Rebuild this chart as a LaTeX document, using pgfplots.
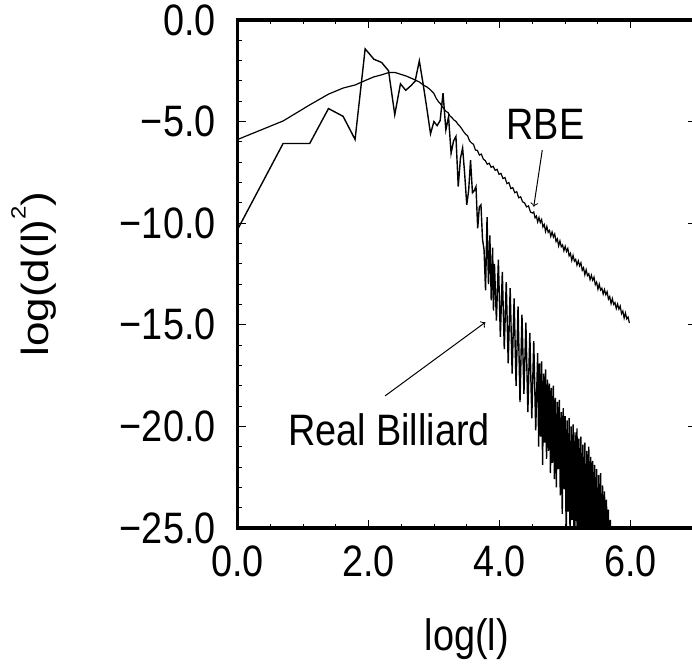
\documentclass[border=0pt]{standalone}
\usepackage{pgfplots}
\pgfplotsset{compat=1.18}
\usepackage{fontspec}
\setmainfont{Liberation Sans}[FakeStretch=0.86]
\newfontfamily\ylfont{Liberation Sans}
\newcommand{\lbl}{\fontsize{22}{26}\selectfont}

\begin{document}
\begin{tikzpicture}
\begin{axis}[
  scale only axis,
  width=229.25pt, height=254pt,
  xmin=0, xmax=7, ymin=-25, ymax=0,
  xtick={0,2,4,6}, xticklabels={0.0,2.0,4.0,6.0},
  ytick={-25,-20,-15,-10,-5,0},
  yticklabels={−25.0,−20.0,−15.0,−10.0,−5.0,0.0},
  minor x tick num=3, minor y tick num=4,
  tick align=inside,
  major tick length=4pt, minor tick length=2pt,
  tick style={line width=0.5pt, black},
  axis line style={line width=1.8pt},
  tick label style={font=\lbl},
  xticklabel style={yshift=-5.2pt},
  yticklabel style={xshift=-7.5pt},
  xlabel={log(l)},
  ylabel={\scalebox{1}[0.86]{\ylfont\lbl log(d(l)\raisebox{13pt}{\fontsize{12}{12}\selectfont 2})}},
  label style={font=\lbl},
  xlabel style={at={(axis description cs:0.5,-0.2402)}, anchor=base},
  ylabel style={at={(axis description cs:-0.4137,0.5)}, anchor=base, rotate=0},
]
% RBE
\addplot[black, line width=0.6pt] table[row sep=\\] {
x y\\
0 -5.88\\ 0.693 -4.97\\ 1.099 -4.18\\ 1.386 -3.65\\ 1.609 -3.35\\ 1.792 -3.2\\
1.946 -2.98\\ 2.079 -2.8\\ 2.197 -2.7\\ 2.303 -2.59\\ 2.398 -2.58\\ 2.485 -2.67\\
2.565 -2.75\\ 2.639 -2.85\\ 2.708 -2.95\\ 2.773 -3.05\\ 2.833 -3.2\\ 2.890 -3.3\\
2.944 -3.44\\ 2.996 -3.62\\
3.03 -3.85\\ 3.06 -4.0\\ 3.09 -4.1\\ 3.12 -4.25\\ 3.15 -4.38\\ 3.18 -4.5\\
3.21 -4.55\\ 3.24 -4.72\\ 3.27 -4.8\\ 3.30 -4.92\\ 3.33 -4.98\\ 3.36 -5.12\\
3.39 -5.22\\ 3.42 -5.35\\ 3.45 -5.5\\ 3.48 -5.62\\ 3.51 -5.7\\ 3.54 -5.95\\
3.57 -6.05\\ 3.60 -6.12\\ 3.63 -6.4\\ 3.66 -6.42\\ 3.69 -6.65\\ 3.72 -6.6\\
3.75 -6.85\\ 3.78 -6.92\\ 3.81 -7.1\\ 3.84 -7.05\\ 3.87 -7.25\\ 3.90 -7.2\\
3.93 -7.4\\ 3.96 -7.35\\ 3.99 -7.6\\ 4.02 -7.55\\ 4.05 -7.8\\ 4.08 -7.75\\
4.11 -8.05\\ 4.14 -8.0\\ 4.17 -8.3\\ 4.20 -8.25\\ 4.23 -8.5\\ 4.26 -8.45\\
4.29 -8.75\\ 4.32 -8.7\\ 4.35 -8.95\\ 4.38 -9.0\\ 4.41 -9.2\\ 4.44 -9.15\\
4.47 -9.45\\ 4.50 -9.5\\
4.52 -9.45\\ 4.54 -9.74\\ 4.56 -9.65\\ 4.58 -9.94\\ 4.60 -9.72\\ 4.62 -9.97\\
4.64 -9.82\\ 4.66 -10.19\\ 4.68 -10.06\\ 4.70 -10.41\\ 4.72 -10.16\\ 4.74 -10.45\\
4.76 -10.36\\ 4.78 -10.65\\ 4.80 -10.43\\ 4.82 -10.68\\ 4.84 -10.53\\ 4.86 -10.90\\
4.88 -10.77\\ 4.90 -11.12\\ 4.92 -10.87\\ 4.94 -11.16\\ 4.96 -11.07\\ 4.98 -11.36\\
5.00 -11.14\\ 5.02 -11.39\\ 5.04 -11.24\\ 5.06 -11.61\\ 5.08 -11.48\\ 5.10 -11.83\\
5.12 -11.58\\ 5.14 -11.87\\ 5.16 -11.78\\ 5.18 -12.07\\ 5.20 -11.85\\ 5.22 -12.10\\
5.24 -11.95\\ 5.26 -12.32\\ 5.28 -12.19\\ 5.30 -12.54\\ 5.32 -12.29\\ 5.34 -12.58\\
5.36 -12.49\\ 5.38 -12.78\\ 5.40 -12.56\\ 5.42 -12.81\\ 5.44 -12.66\\ 5.46 -13.03\\
5.48 -12.90\\ 5.50 -13.25\\ 5.52 -13.00\\ 5.54 -13.29\\ 5.56 -13.20\\ 5.58 -13.49\\
5.60 -13.27\\ 5.62 -13.52\\ 5.64 -13.37\\ 5.66 -13.74\\ 5.68 -13.61\\ 5.70 -13.96\\
5.72 -13.71\\ 5.74 -14.00\\ 5.76 -13.91\\ 5.78 -14.20\\ 5.80 -13.98\\ 5.82 -14.23\\
5.84 -14.08\\ 5.86 -14.45\\ 5.88 -14.32\\ 5.90 -14.67\\ 5.92 -14.42\\ 5.94 -14.71\\
5.96 -14.62\\ 5.98 -14.91\\
};
% Real Billiard
\addplot[black, line width=0.7pt] table[row sep=\\] {
x y\\
0 -10.3\\ 0.693 -6.08\\ 1.099 -6.08\\ 1.386 -4.36\\ 1.609 -4.74\\ 1.792 -5.88\\
1.946 -1.42\\ 2.079 -1.93\\ 2.197 -2.09\\ 2.303 -2.5\\ 2.398 -4.66\\ 2.485 -3.14\\
2.565 -3.46\\ 2.639 -3.25\\ 2.708 -3.02\\ 2.773 -2.01\\ 2.833 -3.19\\ 2.890 -4.4\\
2.944 -5.6\\ 2.996 -5.0\\ 3.045 -5.2\\ 3.091 -4.95\\ 3.135 -3.6\\ 3.178 -5.41\\
3.219 -4.76\\ 3.258 -6.56\\ 3.296 -5.95\\ 3.332 -5.73\\ 3.367 -8.2\\ 3.401 -6.8\\
3.434 -6.3\\ 3.466 -7.6\\ 3.497 -9.1\\ 3.526 -8.4\\ 3.555 -6.9\\ 3.584 -8.5\\
3.611 -8.4\\ 3.638 -8.2\\ 3.664 -10.25\\ 3.689 -9.2\\ 3.714 -9.1\\ 3.738 -10.8\\
3.761 -11.3\\ 3.784 -13.3\\ 3.807 -9.7\\ 3.829 -13.0\\ 3.850 -10.6\\ 3.871 -13.8\\
3.892 -11.2\\ 3.905 -14.3\\
3.92 -12.0\\ 3.95 -14.8\\ 3.98 -11.8\\ 4.01 -15.6\\ 4.04 -12.4\\ 4.07 -16.2\\
4.10 -12.9\\ 4.13 -16.9\\ 4.16 -13.2\\ 4.19 -17.4\\ 4.22 -13.7\\ 4.25 -18.0\\
4.28 -14.1\\ 4.31 -18.8\\ 4.34 -14.5\\ 4.37 -18.4\\ 4.40 -14.9\\ 4.43 -19.3\\
4.46 -15.4\\ 4.49 -19.6\\ 4.52 -15.8\\ 4.55 -20.2\\
4.580 -16.4\\ 4.595 -21.0\\ 4.610 -16.9\\ 4.625 -20.5\\ 4.640 -16.8\\ 4.655 -21.9\\
4.670 -17.4\\ 4.685 -20.8\\ 4.700 -17.2\\ 4.715 -21.6\\ 4.730 -17.7\\ 4.745 -21.2\\
4.760 -17.9\\ 4.775 -22.3\\ 4.790 -18.1\\ 4.805 -21.8\\ 4.820 -18.0\\ 4.835 -22.6\\
4.850 -18.6\\ 4.865 -23.0\\ 4.880 -18.8\\ 4.895 -22.1\\ 4.910 -18.7\\ 4.925 -23.4\\
4.940 -19.3\\ 4.955 -24.3\\ 4.970 -19.1\\ 4.985 -23.1\\ 5.000 -19.5\\ 5.015 -25.6\\
5.030 -19.7\\ 5.045 -24.2\\ 5.060 -19.6\\ 5.075 -25.8\\ 5.090 -20.0\\ 5.105 -24.6\\
5.120 -19.9\\ 5.135 -26.0\\ 5.150 -20.3\\ 5.165 -24.9\\ 5.180 -20.1\\ 5.195 -26.3\\
5.210 -20.6\\ 5.225 -25.2\\ 5.240 -20.5\\ 5.255 -26.5\\ 5.270 -20.9\\ 5.285 -25.5\\
5.300 -20.8\\ 5.315 -26.8\\ 5.330 -21.2\\ 5.345 -25.9\\ 5.360 -21.0\\ 5.375 -27.0\\
5.390 -21.5\\ 5.405 -26.2\\ 5.420 -21.7\\ 5.435 -27.3\\ 5.450 -21.9\\ 5.465 -26.5\\
5.480 -22.1\\ 5.495 -27.5\\ 5.510 -22.4\\ 5.525 -26.8\\ 5.540 -22.3\\ 5.555 -27.8\\
5.570 -22.9\\ 5.585 -27.0\\ 5.600 -23.2\\ 5.615 -28.0\\ 5.630 -23.6\\ 5.645 -27.4\\
5.660 -24.1\\ 5.675 -28.2\\ 5.690 -24.6\\ 5.705 -28.5\\ 5.720 -25.3\\ 5.735 -28.8\\
};
\node[font=\lbl] at (axis cs:4.70,-5.16) {RBE};
\draw[->, line width=0.5pt] (axis cs:4.65,-6.40) -- (axis cs:4.52,-9.19);
\node[font=\lbl] at (axis cs:2.31,-20.18) {Real Billiard};
\draw[->, line width=0.5pt] (axis cs:2.25,-18.5) -- (axis cs:3.78,-14.88);
\coordinate (bl) at (axis cs:-3.629,-31.84);
\coordinate (tr) at (axis cs:6.936,0.984);
\end{axis}
\pgfresetboundingbox
\useasboundingbox (bl) rectangle (tr);
\end{tikzpicture}
\end{document}
